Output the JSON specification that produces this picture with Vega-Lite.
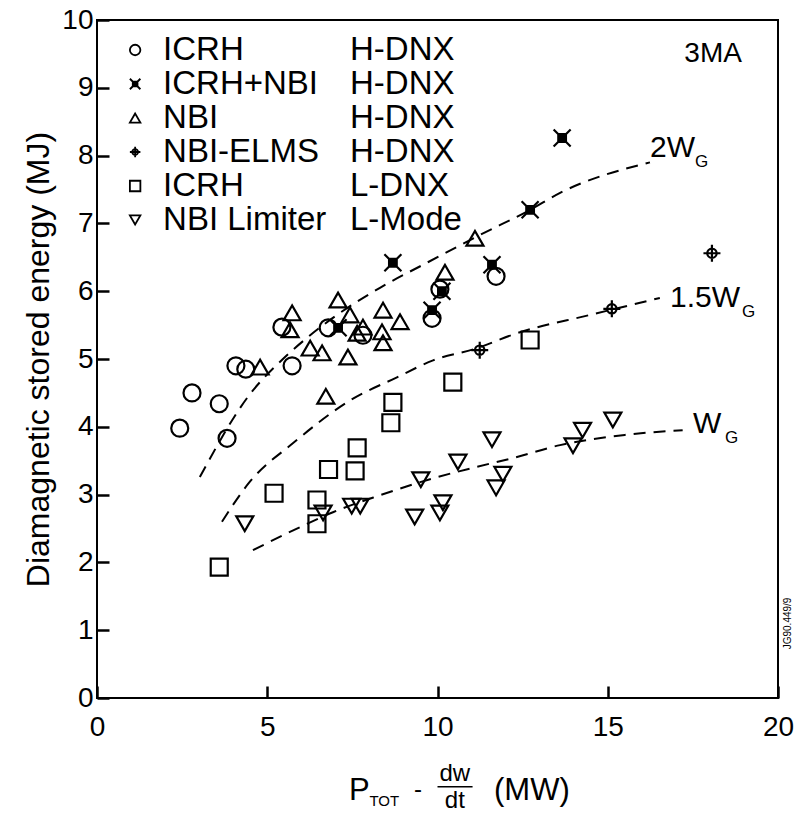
{
  "$schema": "https://vega.github.io/schema/vega-lite/v6.json",
  "width": 681,
  "height": 678,
  "autosize": {"type": "none"},
  "padding": {"left": 97, "top": 20, "right": 18, "bottom": 122},
  "background": "white",
  "config": {
    "font": "Liberation Sans",
    "view": {"stroke": "black", "strokeWidth": 2},
    "axis": {"grid": false, "domain": false, "ticks": true, "tickSize": 12, "tickWidth": 2.5, "tickColor": "black", "offset": -12, "labelColor": "black", "titleColor": "black", "labelFlush": false, "labelOverlap": false, "labelBound": false}
  },
  "datasets": {
    "points": [
      {"x": 2.43, "y": 3.98, "series": "ICRH H-DNX"},
      {"x": 2.79, "y": 4.50, "series": "ICRH H-DNX"},
      {"x": 3.59, "y": 4.34, "series": "ICRH H-DNX"},
      {"x": 3.82, "y": 3.83, "series": "ICRH H-DNX"},
      {"x": 4.08, "y": 4.90, "series": "ICRH H-DNX"},
      {"x": 4.37, "y": 4.85, "series": "ICRH H-DNX"},
      {"x": 5.43, "y": 5.47, "series": "ICRH H-DNX"},
      {"x": 5.73, "y": 4.90, "series": "ICRH H-DNX"},
      {"x": 6.79, "y": 5.46, "series": "ICRH H-DNX"},
      {"x": 7.81, "y": 5.35, "series": "ICRH H-DNX"},
      {"x": 9.84, "y": 5.60, "series": "ICRH H-DNX"},
      {"x": 10.07, "y": 6.03, "series": "ICRH H-DNX"},
      {"x": 11.72, "y": 6.22, "series": "ICRH H-DNX"},
      {"x": 7.08, "y": 5.46, "series": "ICRH+NBI H-DNX"},
      {"x": 8.69, "y": 6.42, "series": "ICRH+NBI H-DNX"},
      {"x": 9.84, "y": 5.72, "series": "ICRH+NBI H-DNX"},
      {"x": 10.13, "y": 6.0, "series": "ICRH+NBI H-DNX"},
      {"x": 11.6, "y": 6.39, "series": "ICRH+NBI H-DNX"},
      {"x": 12.72, "y": 7.2, "series": "ICRH+NBI H-DNX"},
      {"x": 13.66, "y": 8.26, "series": "ICRH+NBI H-DNX"},
      {"x": 4.79, "y": 4.88, "series": "NBI H-DNX"},
      {"x": 5.67, "y": 5.43, "series": "NBI H-DNX"},
      {"x": 5.73, "y": 5.68, "series": "NBI H-DNX"},
      {"x": 6.26, "y": 5.16, "series": "NBI H-DNX"},
      {"x": 6.61, "y": 5.09, "series": "NBI H-DNX"},
      {"x": 6.72, "y": 4.45, "series": "NBI H-DNX"},
      {"x": 7.08, "y": 5.87, "series": "NBI H-DNX"},
      {"x": 7.37, "y": 5.03, "series": "NBI H-DNX"},
      {"x": 7.43, "y": 5.65, "series": "NBI H-DNX"},
      {"x": 7.64, "y": 5.38, "series": "NBI H-DNX"},
      {"x": 7.81, "y": 5.47, "series": "NBI H-DNX"},
      {"x": 8.37, "y": 5.4, "series": "NBI H-DNX"},
      {"x": 8.4, "y": 5.72, "series": "NBI H-DNX"},
      {"x": 8.4, "y": 5.24, "series": "NBI H-DNX"},
      {"x": 8.9, "y": 5.55, "series": "NBI H-DNX"},
      {"x": 10.22, "y": 6.28, "series": "NBI H-DNX"},
      {"x": 11.1, "y": 6.78, "series": "NBI H-DNX"},
      {"x": 11.24, "y": 5.13, "series": "NBI-ELMS H-DNX"},
      {"x": 15.12, "y": 5.74, "series": "NBI-ELMS H-DNX"},
      {"x": 18.06, "y": 6.56, "series": "NBI-ELMS H-DNX"},
      {"x": 3.59, "y": 1.93, "series": "ICRH L-DNX"},
      {"x": 5.2, "y": 3.02, "series": "ICRH L-DNX"},
      {"x": 6.46, "y": 2.92, "series": "ICRH L-DNX"},
      {"x": 6.46, "y": 2.57, "series": "ICRH L-DNX"},
      {"x": 6.8, "y": 3.37, "series": "ICRH L-DNX"},
      {"x": 7.58, "y": 3.35, "series": "ICRH L-DNX"},
      {"x": 7.64, "y": 3.69, "series": "ICRH L-DNX"},
      {"x": 8.63, "y": 4.06, "series": "ICRH L-DNX"},
      {"x": 8.69, "y": 4.36, "series": "ICRH L-DNX"},
      {"x": 10.45, "y": 4.66, "series": "ICRH L-DNX"},
      {"x": 12.72, "y": 5.28, "series": "ICRH L-DNX"},
      {"x": 4.34, "y": 2.57, "series": "NBI Limiter L-Mode"},
      {"x": 6.64, "y": 2.73, "series": "NBI Limiter L-Mode"},
      {"x": 7.48, "y": 2.83, "series": "NBI Limiter L-Mode"},
      {"x": 7.73, "y": 2.83, "series": "NBI Limiter L-Mode"},
      {"x": 9.33, "y": 2.67, "series": "NBI Limiter L-Mode"},
      {"x": 9.51, "y": 3.22, "series": "NBI Limiter L-Mode"},
      {"x": 10.07, "y": 2.73, "series": "NBI Limiter L-Mode"},
      {"x": 10.16, "y": 2.88, "series": "NBI Limiter L-Mode"},
      {"x": 10.6, "y": 3.48, "series": "NBI Limiter L-Mode"},
      {"x": 11.6, "y": 3.81, "series": "NBI Limiter L-Mode"},
      {"x": 11.72, "y": 3.10, "series": "NBI Limiter L-Mode"},
      {"x": 11.92, "y": 3.30, "series": "NBI Limiter L-Mode"},
      {"x": 13.98, "y": 3.72, "series": "NBI Limiter L-Mode"},
      {"x": 14.26, "y": 3.95, "series": "NBI Limiter L-Mode"},
      {"x": 15.15, "y": 4.10, "series": "NBI Limiter L-Mode"}
    ],
    "curves": [
      {"curve": "2W_G", "x": 3.02, "y": 3.26},
      {"curve": "2W_G", "x": 4.49, "y": 4.48},
      {"curve": "2W_G", "x": 5.46, "y": 5.0},
      {"curve": "2W_G", "x": 6.26, "y": 5.35},
      {"curve": "2W_G", "x": 7.05, "y": 5.65},
      {"curve": "2W_G", "x": 8.31, "y": 6.05},
      {"curve": "2W_G", "x": 9.69, "y": 6.42},
      {"curve": "2W_G", "x": 11.25, "y": 6.83},
      {"curve": "2W_G", "x": 12.72, "y": 7.2},
      {"curve": "2W_G", "x": 13.6, "y": 7.45},
      {"curve": "2W_G", "x": 16.24, "y": 7.9},
      {"curve": "1.5W_G", "x": 3.67, "y": 2.6},
      {"curve": "1.5W_G", "x": 4.49, "y": 3.19},
      {"curve": "1.5W_G", "x": 5.76, "y": 3.76},
      {"curve": "1.5W_G", "x": 7.47, "y": 4.4},
      {"curve": "1.5W_G", "x": 8.81, "y": 4.73},
      {"curve": "1.5W_G", "x": 9.87, "y": 4.98},
      {"curve": "1.5W_G", "x": 11.1, "y": 5.15},
      {"curve": "1.5W_G", "x": 12.33, "y": 5.38},
      {"curve": "1.5W_G", "x": 14.48, "y": 5.65},
      {"curve": "1.5W_G", "x": 16.53, "y": 5.9},
      {"curve": "W_G", "x": 4.58, "y": 2.18},
      {"curve": "W_G", "x": 5.96, "y": 2.52},
      {"curve": "W_G", "x": 6.93, "y": 2.74},
      {"curve": "W_G", "x": 8.31, "y": 2.99},
      {"curve": "W_G", "x": 9.87, "y": 3.24},
      {"curve": "W_G", "x": 11.16, "y": 3.41},
      {"curve": "W_G", "x": 12.22, "y": 3.54},
      {"curve": "W_G", "x": 13.6, "y": 3.73},
      {"curve": "W_G", "x": 15.5, "y": 3.88},
      {"curve": "W_G", "x": 17.2, "y": 3.95}
    ],
    "curveLabels": [
      {"t": "2W", "x": 16.24, "y": 7.98},
      {"t": "1.5W", "x": 16.83, "y": 5.77},
      {"t": "W", "x": 17.5, "y": 3.91}
    ],
    "curveSubs": [
      {"t": "G", "x": 17.56, "y": 7.83},
      {"t": "G", "x": 18.94, "y": 5.62},
      {"t": "G", "x": 18.44, "y": 3.76}
    ],
    "notes": [
      {"t": "3MA", "x": 17.25, "y": 9.38}
    ],
    "jg": [
      {"t": "JG90.449/9", "x": 20.3, "y": 1.1}
    ],
    "titleBig": [
      {"t": "P", "x": 7.4, "y": -1.5},
      {"t": "(MW)", "x": 11.66, "y": -1.5}
    ],
    "titleSub": [
      {"t": "TOT", "x": 8.0, "y": -1.59}
    ],
    "titleMid": [
      {"t": "-", "x": 9.43, "y": -1.46},
      {"t": "dw", "x": 10.51, "y": -1.22},
      {"t": "dt", "x": 10.51, "y": -1.62}
    ],
    "fraction": [
      {"x": 10.0, "x2": 11.03, "y": -1.31}
    ],
    "legend": [
      {"series": "ICRH H-DNX", "heating": "ICRH", "mode": "H-DNX"},
      {"series": "ICRH+NBI H-DNX", "heating": "ICRH+NBI", "mode": "H-DNX"},
      {"series": "NBI H-DNX", "heating": "NBI", "mode": "H-DNX"},
      {"series": "NBI-ELMS H-DNX", "heating": "NBI-ELMS", "mode": "H-DNX"},
      {"series": "ICRH L-DNX", "heating": "ICRH", "mode": "L-DNX"},
      {"series": "NBI Limiter L-Mode", "heating": "NBI Limiter", "mode": "L-Mode"}
    ]
  },
  "layer": [
    {
      "encoding": {
        "x": {"field": "x", "type": "quantitative", "title": null,
          "scale": {"domain": [0, 20], "nice": false, "zero": false},
          "axis": {"values": [0, 5, 10, 15, 20], "labelFontSize": 28, "labelPadding": 15}},
        "y": {"field": "y", "type": "quantitative", "title": "Diamagnetic stored energy (MJ)",
          "scale": {"domain": [0, 10], "nice": false, "zero": false},
          "axis": {"values": [0, 1, 2, 3, 4, 5, 6, 7, 8, 9, 10], "labelFontSize": 28, "labelPadding": 4, "titleFontSize": 32, "titleFontWeight": "normal", "titlePadding": 6}}
      },
      "layer": [
        {
          "data": {"name": "curves"},
          "mark": {"type": "line", "color": "black", "strokeWidth": 2, "strokeDash": [12, 8], "interpolate": "monotone"},
          "encoding": {"detail": {"field": "curve"}}
        },
        {
          "data": {"name": "points"},
          "mark": {"type": "point", "filled": true, "opacity": 1, "stroke": "black", "strokeWidth": 2.2, "size": 289},
          "encoding": {
            "shape": {"field": "series", "type": "nominal", "legend": null,
              "scale": {"domain": ["ICRH H-DNX", "ICRH+NBI H-DNX", "NBI H-DNX", "NBI-ELMS H-DNX", "ICRH L-DNX", "NBI Limiter L-Mode"],
                "range": ["circle", "M-1,-1L1,1M1,-1L-1,1M-0.45,-0.45H0.45V0.45H-0.45Z", "triangle-up", "M0,-1V1M-1,0H1M-0.55,0A0.55,0.55,0,1,0,0.55,0A0.55,0.55,0,1,0,-0.55,0Z", "square", "triangle-down"]}},
            "fill": {"field": "series", "type": "nominal", "legend": null,
              "scale": {"domain": ["ICRH H-DNX", "ICRH+NBI H-DNX", "NBI H-DNX", "NBI-ELMS H-DNX", "ICRH L-DNX", "NBI Limiter L-Mode"],
                "range": ["transparent", "black", "transparent", "transparent", "transparent", "transparent"]}}
          }
        },
        {
          "data": {"name": "curveLabels"},
          "mark": {"type": "text", "fontSize": 30, "align": "left", "baseline": "alphabetic", "color": "black"},
          "encoding": {"text": {"field": "t"}}
        },
        {
          "data": {"name": "curveSubs"},
          "mark": {"type": "text", "fontSize": 17, "align": "left", "baseline": "alphabetic", "color": "black"},
          "encoding": {"text": {"field": "t"}}
        },
        {
          "data": {"name": "notes"},
          "mark": {"type": "text", "fontSize": 28, "align": "left", "baseline": "alphabetic", "color": "black"},
          "encoding": {"text": {"field": "t"}}
        },
        {
          "data": {"name": "jg"},
          "mark": {"type": "text", "fontSize": 10, "align": "center", "baseline": "middle", "angle": 270, "color": "black"},
          "encoding": {"text": {"field": "t"}}
        },
        {
          "data": {"name": "titleBig"},
          "mark": {"type": "text", "fontSize": 31, "align": "left", "baseline": "alphabetic", "color": "black"},
          "encoding": {"text": {"field": "t"}}
        },
        {
          "data": {"name": "titleSub"},
          "mark": {"type": "text", "fontSize": 15, "align": "left", "baseline": "alphabetic", "color": "black"},
          "encoding": {"text": {"field": "t"}}
        },
        {
          "data": {"name": "titleMid"},
          "mark": {"type": "text", "fontSize": 24, "align": "center", "baseline": "alphabetic", "color": "black"},
          "encoding": {"text": {"field": "t"}}
        },
        {
          "data": {"name": "fraction"},
          "mark": {"type": "rule", "color": "black", "strokeWidth": 1.5},
          "encoding": {"x2": {"field": "x2"}}
        }
      ]
    },
    {
      "data": {"name": "legend"},
      "encoding": {
        "y": {"field": "series", "type": "ordinal", "axis": null,
          "scale": {"domain": ["ICRH H-DNX", "ICRH+NBI H-DNX", "NBI H-DNX", "NBI-ELMS H-DNX", "ICRH L-DNX", "NBI Limiter L-Mode"], "range": [30, 200], "padding": 0}}
      },
      "layer": [
        {
          "mark": {"type": "point", "filled": true, "opacity": 1, "stroke": "black", "strokeWidth": 1.8, "size": 110},
          "encoding": {
            "x": {"datum": 1.12, "type": "quantitative", "title": null},
            "shape": {"field": "series", "type": "nominal", "legend": null},
            "fill": {"field": "series", "type": "nominal", "legend": null}
          }
        },
        {
          "mark": {"type": "text", "fontSize": 33, "align": "left", "baseline": "middle", "color": "black"},
          "encoding": {
            "x": {"datum": 1.94, "type": "quantitative", "title": null},
            "text": {"field": "heating"}
          }
        },
        {
          "mark": {"type": "text", "fontSize": 33, "align": "left", "baseline": "middle", "color": "black"},
          "encoding": {
            "x": {"datum": 7.43, "type": "quantitative", "title": null},
            "text": {"field": "mode"}
          }
        }
      ]
    }
  ],
  "resolve": {"scale": {"y": "independent"}}
}
